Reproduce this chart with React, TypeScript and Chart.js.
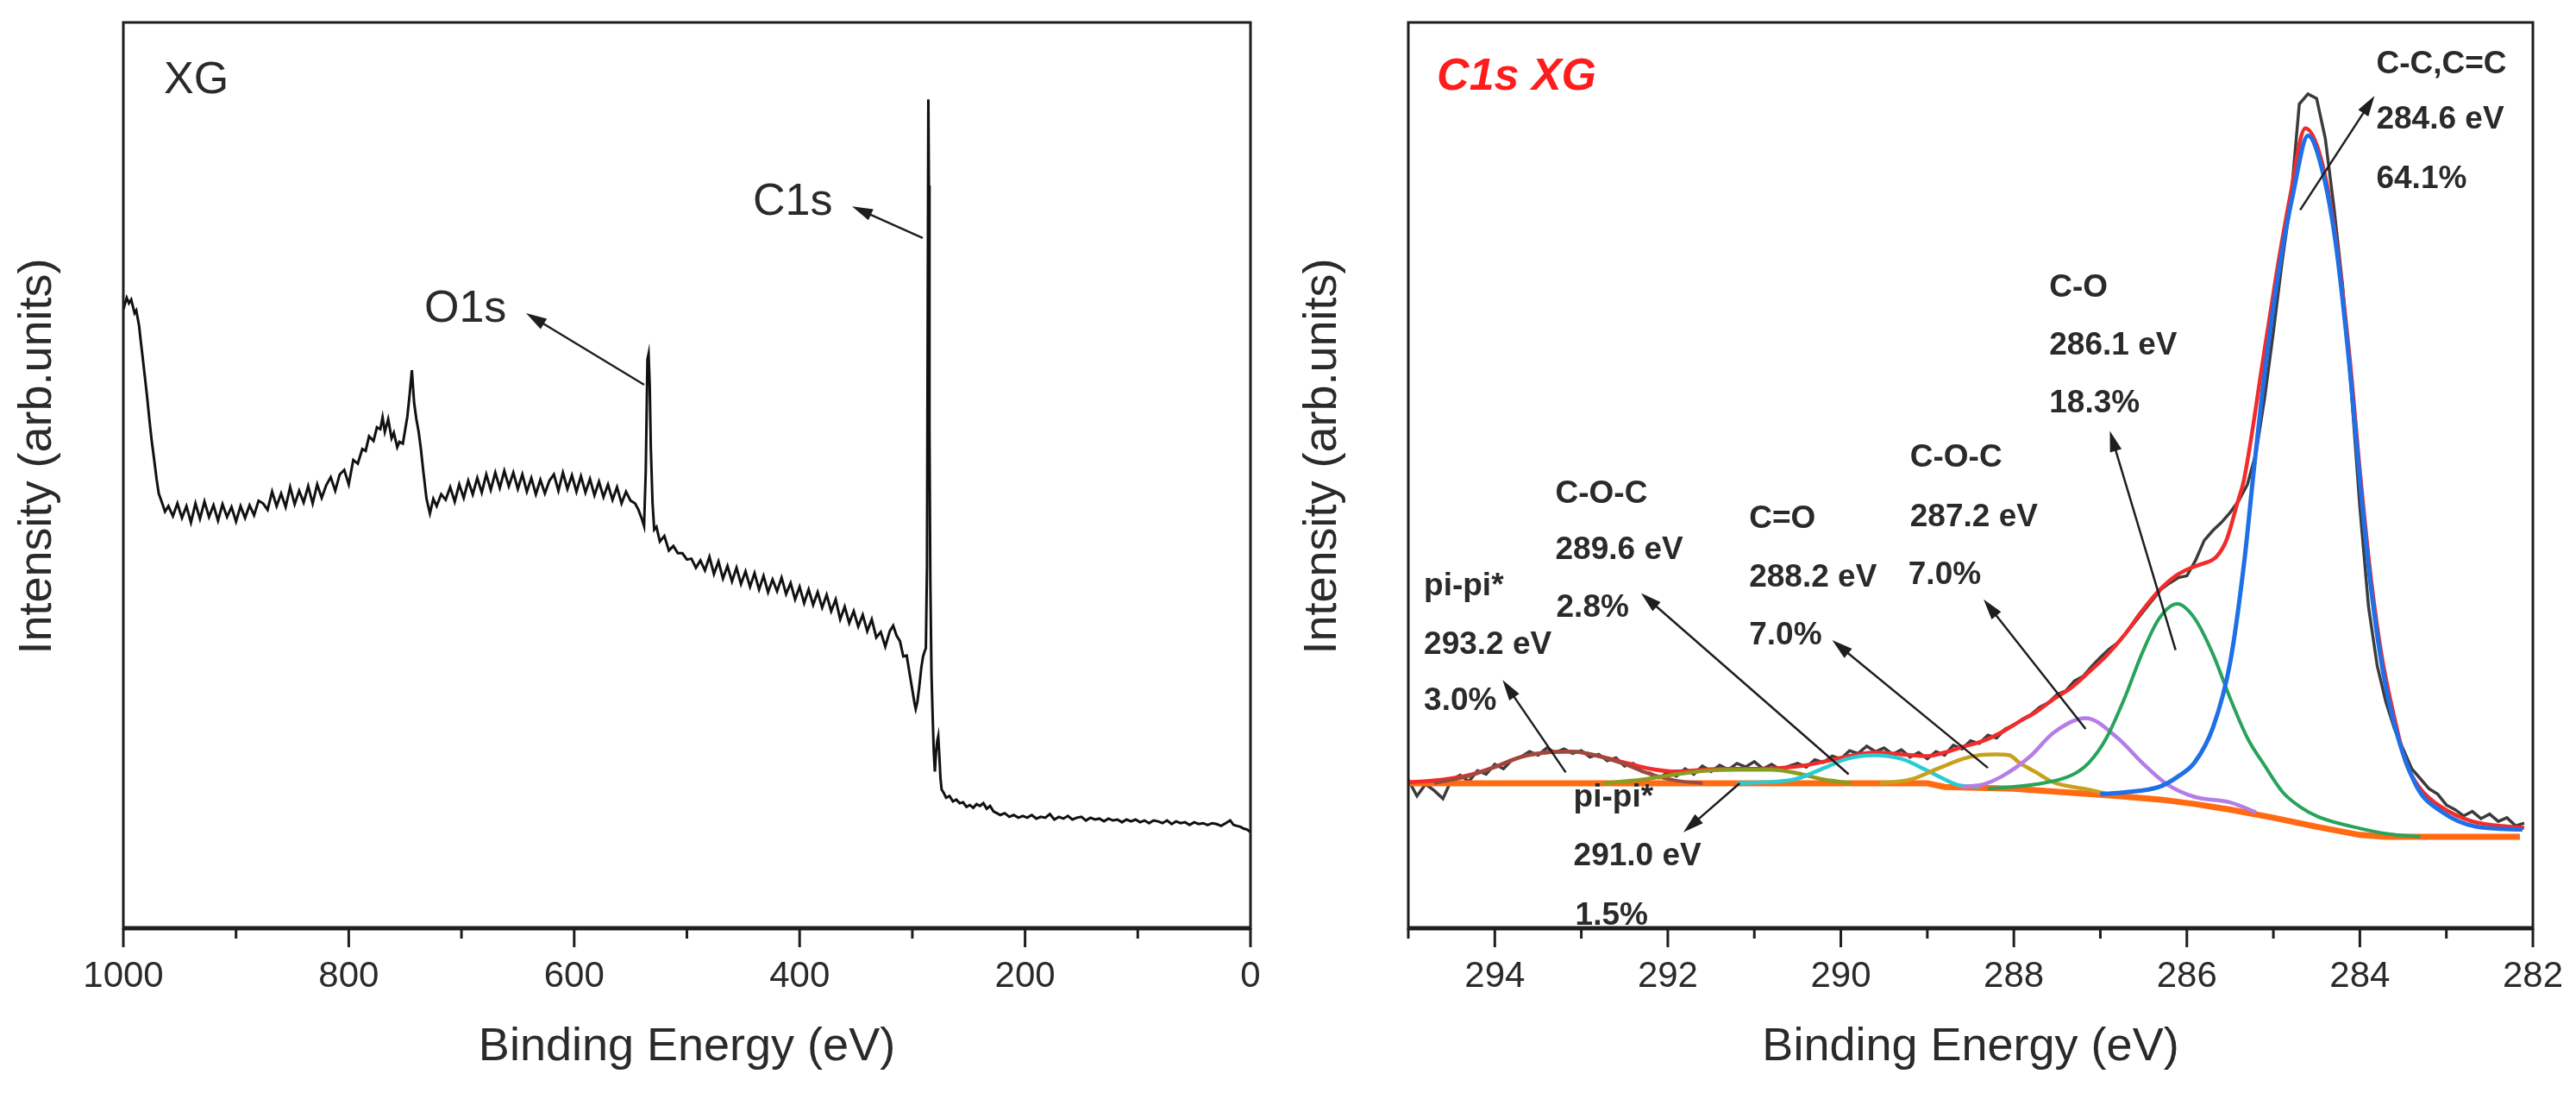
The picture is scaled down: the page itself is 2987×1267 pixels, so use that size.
import { useEffect, useRef } from 'react';
import { Chart, registerables } from 'chart.js';

Chart.register(...registerables);

const W = 2987;
const H = 1267;
const FONT = '"Liberation Sans", Arial, sans-serif';
const INK = '#1e1e1e';
const TEXT = '#2a2a2a';

// ---- survey spectrum (left panel) ----
const SURVEY_BE = [
  1000, 997, 995, 993, 990, 988.5, 986, 984.7, 983, 981,
  979, 977, 975, 972.5, 970.5, 968.6, 966, 963, 960, 956,
  952, 948, 944, 940, 936, 932, 928, 924, 920, 916,
  912, 908, 904, 900, 896, 892, 888, 884, 880, 876,
  872, 868, 864, 860, 856, 852, 848, 844, 840, 836,
  832, 828, 824, 820, 816, 812, 808, 804, 800, 796,
  792, 788, 785, 782, 778, 775, 772, 770, 768, 765,
  762, 760, 757, 755, 752, 750, 748, 746, 744, 742,
  740, 738, 736, 734, 731, 728, 725, 722, 718, 714,
  710, 706, 702, 698, 694, 690, 686, 682, 678, 674,
  670, 666, 662, 658, 654, 650, 646, 642, 638, 634,
  630, 626, 622, 618, 614, 610, 606, 602, 598, 594,
  590, 586, 582, 578, 574, 570, 566, 562, 558, 554,
  550, 546, 543, 540, 538, 536.5, 535, 534, 533, 532,
  530.5, 529, 527, 524, 520, 516, 512, 508, 504, 500,
  496, 492, 488, 484, 480, 476, 472, 468, 464, 460,
  456, 452, 448, 444, 440, 436, 432, 428, 424, 420,
  416, 412, 408, 404, 400, 396, 392, 388, 384, 380,
  376, 372, 368, 364, 360, 356, 352, 348, 344, 340,
  336, 332, 328, 324, 320, 317, 314, 311, 308, 305,
  302, 300, 298, 297, 295.5, 294, 292, 290.5, 289, 288,
  287, 286.3, 285.8, 285.3, 284.8, 284, 283, 282, 281, 280,
  279, 278, 277, 276, 275, 274, 272, 270, 267, 264,
  261, 258, 255, 252, 249, 246, 243, 240, 237, 234,
  231, 228, 225, 222, 218, 214, 210, 206, 202, 198,
  194, 190, 186, 182, 178, 174, 170, 166, 162, 158,
  154, 150, 146, 142, 138, 134, 130, 126, 122, 118,
  114, 110, 106, 102, 98, 94, 90, 86, 82, 78,
  74, 70, 66, 62, 58, 54, 50, 46, 42, 38,
  34, 30, 26, 22, 18, 15, 12, 9, 6, 3,
  0,
];
const SURVEY_INT = [
  68.3, 69.6, 69.0, 69.4, 67.9, 68.2, 66.5, 65.0, 63.2, 61.0,
  58.8, 56.3, 54.0, 51.6, 49.6, 48.0, 47.1, 46.0, 46.6, 45.5,
  46.9, 45.3, 46.6, 44.8, 46.9, 45.2, 47.1, 45.4, 46.7, 45.0,
  46.8, 45.4, 46.5, 44.9, 46.6, 45.3, 46.7, 45.6, 47.2, 46.9,
  46.2, 48.2, 46.6, 48.0, 46.5, 48.7, 46.8, 48.3, 47.0, 48.8,
  46.9, 49.0, 47.5, 48.9, 49.8, 48.3, 50.1, 50.6, 49.0, 51.7,
  51.3, 52.9, 52.7, 54.3, 53.8, 55.3, 55.1, 56.4, 54.8, 56.2,
  54.1, 54.7, 53.1, 53.7, 53.5, 55.0, 56.5, 58.9, 61.6, 58.0,
  56.2, 54.8, 52.9, 50.6, 47.4, 45.8, 47.4, 46.6, 47.9, 47.3,
  48.7, 47.1, 49.0, 47.5, 49.4, 47.9, 49.7, 48.1, 50.1, 48.4,
  50.3, 48.6, 50.5, 48.8, 50.3, 48.5, 50.1, 48.2, 49.7, 47.9,
  49.5, 48.0, 49.4, 50.1, 48.3, 50.3, 48.5, 50.0, 48.2, 49.9,
  48.1, 49.6, 47.8, 49.3, 47.6, 49.0, 47.3, 48.7, 46.9, 48.2,
  47.2, 46.9, 46.2, 45.2, 44.4, 50.5, 62.8, 63.4, 60.0, 53.0,
  47.0, 44.0, 44.3, 42.7, 43.3, 41.7, 42.2, 41.4, 41.4, 40.7,
  40.8, 39.8, 40.6, 39.5, 41.0, 39.1, 40.5, 38.6, 40.0, 38.3,
  39.8, 38.0, 39.4, 37.7, 39.2, 37.4, 38.9, 37.1, 38.5, 37.2,
  38.7, 36.9, 38.1, 36.3, 37.7, 35.9, 37.4, 35.7, 37.1, 35.4,
  36.8, 35.0, 36.3, 34.1, 35.5, 33.7, 35.0, 33.3, 34.6, 32.8,
  34.1, 32.1, 32.7, 31.1, 32.8, 33.4, 32.3, 31.7, 30.0, 30.1,
  27.8, 26.3, 24.8, 24.2, 25.0, 26.5, 28.8, 30.0, 30.6, 30.9,
  40.0, 70.0, 91.5, 82.0, 55.0, 38.0, 28.0, 23.5, 19.5, 17.3,
  19.4, 20.6, 21.2, 19.0, 16.5, 15.3, 14.9, 14.4, 14.6, 14.0,
  14.2, 13.8, 13.9, 13.4, 13.6, 13.3, 13.7, 13.5, 13.8, 13.2,
  13.5, 12.9, 12.7, 12.5, 12.7, 12.3, 12.5, 12.2, 12.4, 12.2,
  12.5, 12.1, 12.3, 12.2, 12.6, 12.0, 12.3, 12.1, 12.4, 12.0,
  12.2, 12.3, 11.9, 12.2, 12.0, 12.1, 11.8, 12.1, 11.9, 12.0,
  11.7, 12.0, 11.8, 12.0, 11.7, 11.9, 11.6, 11.9, 11.8, 11.6,
  11.9, 11.5, 11.8, 11.6, 11.7, 11.4, 11.7, 11.5, 11.6, 11.4,
  11.6, 11.5, 11.3, 11.6, 11.9, 11.4, 11.3, 11.2, 11.0, 10.9,
  10.6,
];
const SURVEY_MAJOR = [0, 200, 400, 600, 800, 1000];
const SURVEY_MINOR = [100, 300, 500, 700, 900];

// ---- C1s high resolution (right panel) ----
const C1S_BE = [
  295.0, 294.9, 294.8, 294.7, 294.6, 294.5, 294.4, 294.3, 294.2, 294.1,
  294.0, 293.9, 293.8, 293.7, 293.6, 293.5, 293.4, 293.3, 293.2, 293.1,
  293.0, 292.9, 292.8, 292.7, 292.6, 292.5, 292.4, 292.3, 292.2, 292.1,
  292.0, 291.9, 291.8, 291.7, 291.6, 291.5, 291.4, 291.3, 291.2, 291.1,
  291.0, 290.9, 290.8, 290.7, 290.6, 290.5, 290.4, 290.3, 290.2, 290.1,
  290.0, 289.9, 289.8, 289.7, 289.6, 289.5, 289.4, 289.3, 289.2, 289.1,
  289.0, 288.9, 288.8, 288.7, 288.6, 288.5, 288.4, 288.3, 288.2, 288.1,
  288.0, 287.9, 287.8, 287.7, 287.6, 287.5, 287.4, 287.3, 287.2, 287.1,
  287.0, 286.9, 286.8, 286.7, 286.6, 286.5, 286.4, 286.3, 286.2, 286.1,
  286.0, 285.9, 285.8, 285.7, 285.6, 285.5, 285.4, 285.3, 285.2, 285.1,
  285.0, 284.9, 284.8, 284.7, 284.6, 284.5, 284.4, 284.3, 284.2, 284.1,
  284.0, 283.9, 283.8, 283.7, 283.6, 283.5, 283.4, 283.3, 283.2, 283.1,
  283.0, 282.9, 282.8, 282.7, 282.6, 282.5, 282.4, 282.3, 282.2, 282.1,
];
const C1S_RAW = [
  16.4, 14.6, 15.9, 15.2, 14.3, 16.4, 16.9, 16.2, 17.4, 17.0,
  18.1, 17.6, 18.6, 18.9, 19.5, 19.1, 19.9, 19.4, 19.8, 19.3,
  19.6, 18.9, 19.2, 18.5, 18.8, 17.9, 18.2, 17.3, 17.1, 16.6,
  17.2, 16.8, 17.6, 17.0, 17.9, 17.3, 18.0, 17.5, 18.2, 17.8,
  18.4, 17.6, 18.1, 17.5, 17.9, 18.2, 17.8, 18.6, 18.3, 19.0,
  18.7, 19.6, 19.3, 20.1, 19.5, 19.9, 19.2, 19.7, 18.9, 19.4,
  18.7, 19.5, 19.1, 20.2, 19.8, 20.7, 20.4, 21.3, 21.0, 22.0,
  22.4, 23.1, 23.6, 24.4, 24.9, 25.8, 26.2, 27.3, 27.8, 28.9,
  29.9, 30.8, 31.5, 32.6, 33.8, 35.0, 36.2, 37.4, 38.1, 38.7,
  38.9, 40.6, 42.8, 43.9, 44.8, 45.9, 47.2, 49.0, 52.5, 58.6,
  65.8, 73.5, 80.2, 91.0, 92.1, 91.6, 87.2, 79.6, 71.0, 59.5,
  46.5, 35.5, 29.0, 25.0, 22.0, 19.8, 17.6, 16.5, 15.4, 14.8,
  13.6, 13.1, 12.4, 12.9, 12.1, 12.6, 11.8, 12.2, 11.3, 11.6,
];

const ENV_BE = [
  295.0, 294.6, 294.3, 294.0, 293.7, 293.4, 293.1, 292.8, 292.5, 292.2,
  291.9, 291.6, 291.3, 291.0, 290.7, 290.4, 290.1, 289.8, 289.6, 289.3,
  289.0, 288.8, 288.6, 288.35, 288.15, 287.94, 287.74, 287.54, 287.33, 287.13,
  286.93, 286.72, 286.52, 286.32, 286.13, 285.95, 285.83, 285.66, 285.54, 285.42,
  285.34, 285.26, 285.13, 284.97, 284.81, 284.63, 284.45, 284.28, 284.12, 283.99,
  283.87, 283.75, 283.59, 283.47, 283.3, 283.06, 282.7, 282.25, 282.1,
];
const ENV_INT = [
  16.1, 16.4, 16.9, 17.8, 18.9, 19.4, 19.5, 19.0, 18.3, 17.6,
  17.3, 17.5, 17.6, 17.6, 17.7, 18.0, 18.6, 19.2, 19.4, 19.2,
  19.0, 19.4, 20.0, 20.7, 21.6, 22.8, 23.9, 25.3, 26.6, 28.3,
  30.1, 32.4, 35.0, 37.3, 38.9, 39.8, 40.2, 41.0, 42.9, 46.8,
  49.5, 53.9, 62.1, 71.9, 80.6, 88.3, 85.0, 76.3, 63.2, 49.5,
  38.5, 30.2, 22.8, 18.3, 15.4, 13.4, 11.8, 11.2, 11.1,
];

const BG_BE = [295.0, 289.0, 288.8, 288.0, 287.4, 286.8, 286.3, 285.9, 285.5, 285.0, 284.5, 284.0, 283.7, 282.15];
const BG_INT = [16.0, 16.0, 15.6, 15.4, 15.0, 14.6, 14.2, 13.7, 13.1, 12.2, 11.2, 10.3, 10.1, 10.1];

const CC_BE = [287.0, 286.72, 286.32, 286.11, 285.91, 285.7, 285.5, 285.34, 285.22, 285.09, 284.93, 284.77, 284.6, 284.44, 284.28, 284.12, 283.99, 283.87, 283.75, 283.59, 283.34, 283.06, 282.65, 282.12];
const CC_INT = [14.8, 15.0, 15.6, 16.7, 18.3, 22.1, 29.3, 40.2, 51.1, 62.1, 73.0, 81.2, 87.5, 83.9, 75.7, 62.1, 48.4, 37.5, 29.3, 22.1, 15.6, 12.9, 11.2, 10.9];

const CO_BE = [288.3, 287.74, 287.33, 287.13, 286.93, 286.72, 286.52, 286.32, 286.11, 285.91, 285.7, 285.5, 285.3, 285.09, 284.89, 284.69, 284.48, 284.08, 283.67, 283.3];
const CO_INT = [15.4, 15.9, 16.9, 18.3, 21.0, 25.4, 30.3, 34.2, 35.8, 34.2, 30.3, 25.4, 21.0, 17.8, 15.0, 13.4, 12.3, 11.2, 10.4, 10.1];

const COC_A_BE = [288.6, 288.35, 288.15, 287.82, 287.54, 287.17, 286.8, 286.52, 286.23, 285.91, 285.5, 285.2];
const COC_A_INT = [15.6, 15.9, 16.7, 18.9, 21.6, 23.2, 21.0, 18.3, 15.9, 14.5, 13.9, 12.8];

const CEO_BE = [289.55, 289.2, 288.86, 288.59, 288.41, 288.2, 288.05, 287.94, 287.74, 287.54, 287.13, 286.9];
const CEO_INT = [16.0, 16.4, 17.7, 18.7, 19.1, 19.2, 19.1, 18.3, 17.2, 16.1, 15.3, 14.8];

const COC_B_BE = [291.2, 290.55, 290.19, 289.93, 289.62, 289.3, 289.0, 288.77, 288.64, 288.4];
const COC_B_INT = [16.0, 16.4, 17.7, 18.7, 19.1, 18.7, 17.4, 16.3, 15.8, 15.6];

const PIPI_A_BE = [292.75, 292.3, 291.9, 291.53, 291.2, 290.8, 290.5, 290.19, 289.88];
const PIPI_A_INT = [16.0, 16.4, 17.0, 17.4, 17.5, 17.5, 17.1, 16.4, 16.0];

const PIPI_B_BE = [294.7, 294.3, 294.0, 293.7, 293.4, 293.1, 292.8, 292.5, 292.2, 291.9, 291.6];
const PIPI_B_INT = [16.0, 16.8, 17.8, 18.9, 19.4, 19.5, 19.0, 18.1, 17.0, 16.3, 16.0];

const C1S_MAJOR = [282, 284, 286, 288, 290, 292, 294];
const C1S_MINOR = [283, 285, 287, 289, 291, 293, 295];

// ---- annotation layout (data coordinates) ----
const BIG = `52px ${FONT}`;
const ANNO = `bold 37px ${FONT}`;

type Pt = [number, number];
interface Label { text: string; at: Pt; font?: string; color?: string }
interface Arrow { from: Pt; to: Pt }
interface Decor { major: number[]; minor: number[]; yTitle: string; labels: Label[]; arrows: Arrow[] }

const SURVEY_DECOR: Decor = {
  major: SURVEY_MAJOR,
  minor: SURVEY_MINOR,
  yTitle: 'Intensity (arb.units)',
  labels: [
    { text: 'XG', at: [964, 92.2], font: BIG },
    { text: 'O1s', at: [733, 67.0], font: BIG },
    { text: 'C1s', at: [441.5, 78.8], font: BIG },
  ],
  arrows: [
    { from: [537.9, 60.0], to: [642.7, 67.9] },
    { from: [290.8, 76.2], to: [353.5, 79.7] },
  ],
};

const C1S_DECOR: Decor = {
  major: C1S_MAJOR,
  minor: C1S_MINOR,
  yTitle: 'Intensity (arb.units)',
  labels: [
    { text: 'C1s XG', at: [294.67, 92.6], font: `italic bold 52px ${FONT}`, color: '#ff1c1c' },
    { text: 'C-C,C=C', at: [283.81, 94.4] },
    { text: '284.6 eV', at: [283.81, 88.3] },
    { text: '64.1%', at: [283.81, 81.7] },
    { text: 'C-O', at: [287.59, 69.7] },
    { text: '286.1 eV', at: [287.59, 63.3] },
    { text: '18.3%', at: [287.59, 57.0] },
    { text: 'C-O-C', at: [289.2, 51.0] },
    { text: '287.2 eV', at: [289.2, 44.4] },
    { text: '7.0%', at: [289.22, 38.0] },
    { text: 'C=O', at: [291.06, 44.2] },
    { text: '288.2 eV', at: [291.06, 37.7] },
    { text: '7.0%', at: [291.06, 31.3] },
    { text: 'C-O-C', at: [293.3, 47.0] },
    { text: '289.6 eV', at: [293.3, 40.8] },
    { text: '2.8%', at: [293.29, 34.4] },
    { text: 'pi-pi*', at: [294.82, 36.8] },
    { text: '293.2 eV', at: [294.82, 30.3] },
    { text: '3.0%', at: [294.82, 24.1] },
    { text: 'pi-pi*', at: [293.09, 13.4] },
    { text: '291.0 eV', at: [293.09, 7.0] },
    { text: '1.5%', at: [293.07, 0.4] },
  ],
  arrows: [
    { from: [284.69, 79.3], to: [283.83, 91.9] },
    { from: [286.13, 30.7], to: [286.89, 54.9] },
    { from: [287.17, 22.0], to: [288.35, 36.3] },
    { from: [288.3, 17.7], to: [290.1, 31.8] },
    { from: [289.91, 17.0], to: [292.31, 37.0] },
    { from: [293.18, 17.2], to: [293.91, 27.4] },
    { from: [291.17, 16.0], to: [291.82, 10.6] },
  ],
};

function decorPlugin(d: Decor) {
  return {
    id: 'decor',
    afterDatasetsDraw(chart: any) {
      const { ctx, chartArea: a } = chart;
      const xs = chart.scales.x;
      const ys = chart.scales.y;
      ctx.save();
      ctx.strokeStyle = INK;
      ctx.lineWidth = 3;
      ctx.strokeRect(a.left, a.top, a.right - a.left, a.bottom - a.top);
      ctx.lineWidth = 5;
      ctx.beginPath();
      ctx.moveTo(a.left - 1, a.bottom);
      ctx.lineTo(a.right + 1, a.bottom);
      ctx.stroke();

      ctx.lineWidth = 3;
      const tick = (v: number, len: number) => {
        const px = xs.getPixelForValue(v);
        ctx.beginPath();
        ctx.moveTo(px, a.bottom);
        ctx.lineTo(px, a.bottom + len);
        ctx.stroke();
      };
      d.major.forEach(v => tick(v, 22));
      d.minor.forEach(v => tick(v, 12));

      ctx.fillStyle = INK;
      ctx.lineWidth = 2.5;
      d.arrows.forEach(({ from, to }) => {
        const x0 = xs.getPixelForValue(from[0]);
        const y0 = ys.getPixelForValue(from[1]);
        const x1 = xs.getPixelForValue(to[0]);
        const y1 = ys.getPixelForValue(to[1]);
        const ang = Math.atan2(y1 - y0, x1 - x0);
        const c = Math.cos(ang), s = Math.sin(ang);
        const hl = 24, hw = 7;
        ctx.beginPath();
        ctx.moveTo(x0, y0);
        ctx.lineTo(x1 - hl * 0.7 * c, y1 - hl * 0.7 * s);
        ctx.stroke();
        ctx.beginPath();
        ctx.moveTo(x1, y1);
        ctx.lineTo(x1 - hl * c + hw * s, y1 - hl * s - hw * c);
        ctx.lineTo(x1 - hl * c - hw * s, y1 - hl * s + hw * c);
        ctx.closePath();
        ctx.fill();
      });

      ctx.textAlign = 'left';
      ctx.textBaseline = 'alphabetic';
      d.labels.forEach(l => {
        ctx.font = l.font ?? ANNO;
        ctx.fillStyle = l.color ?? TEXT;
        ctx.fillText(l.text, xs.getPixelForValue(l.at[0]), ys.getPixelForValue(l.at[1]));
      });

      ctx.translate(a.left - 99, (a.top + a.bottom) / 2 - 22);
      ctx.rotate(-Math.PI / 2);
      ctx.font = `54px ${FONT}`;
      ctx.fillStyle = TEXT;
      ctx.textAlign = 'center';
      ctx.textBaseline = 'middle';
      ctx.fillText(d.yTitle, 0, 0);
      ctx.restore();
    },
  };
}

const series = (xs: number[], ys: number[], color: string, width: number, smooth = true) => ({
  data: xs.map((x, i) => ({ x, y: ys[i] })),
  borderColor: color,
  borderWidth: width,
  pointRadius: 0,
  fill: false,
  tension: 0,
  cubicInterpolationMode: smooth ? 'monotone' : 'default',
});

function scales(min: number, max: number, major: number[], minor: number[]) {
  const all = [...major, ...minor].sort((p, q) => p - q);
  return {
    x: {
      type: 'linear',
      min,
      max,
      reverse: true,
      afterBuildTicks: (s: any) => { s.ticks = all.map(value => ({ value })); },
      afterFit: (s: any) => { s.height = 191; },
      ticks: {
        autoSkip: false,
        maxRotation: 0,
        padding: 31,
        color: TEXT,
        font: { family: FONT, size: 42 },
        callback: (v: number) => (major.includes(v) ? String(v) : ''),
      },
      grid: { display: false, drawTicks: false },
      border: { display: false },
      title: {
        display: true,
        text: 'Binding Energy (eV)',
        color: TEXT,
        font: { family: FONT, size: 54 },
        padding: { top: 0, bottom: 20 },
      },
    },
    y: {
      min: 0,
      max: 100,
      afterFit: (s: any) => { s.width = 143; },
      ticks: { display: false },
      grid: { display: false, drawTicks: false },
      border: { display: false },
    },
  };
}

function baseOptions(padRight: number, sc: any) {
  return {
    animation: false,
    responsive: false,
    devicePixelRatio: 1,
    events: [],
    layout: { padding: { top: 26, right: padRight, left: 0, bottom: 0 } },
    plugins: { legend: { display: false }, tooltip: { enabled: false } },
    scales: sc,
  };
}

const buildSurvey = () => ({
  type: 'line',
  data: { datasets: [series(SURVEY_BE, SURVEY_INT, '#111111', 3, false)] },
  options: baseOptions(30, scales(0, 1000, SURVEY_MAJOR, SURVEY_MINOR)),
  plugins: [decorPlugin(SURVEY_DECOR)],
});

const buildC1s = () => ({
  type: 'line',
  data: {
    datasets: [
      series(CC_BE, CC_INT, '#1f6fe8', 5),
      series(CO_BE, CO_INT, '#27a35a', 4),
      series(COC_A_BE, COC_A_INT, '#b47ee6', 4.5),
      series(CEO_BE, CEO_INT, '#c9a01c', 4.5),
      series(COC_B_BE, COC_B_INT, '#2ccbd3', 4.5),
      series(PIPI_A_BE, PIPI_A_INT, '#8c9c1f', 4.5),
      series(PIPI_B_BE, PIPI_B_INT, '#9a4a40', 4),
      series(ENV_BE, ENV_INT, '#f22b2b', 4.5),
      series(BG_BE, BG_INT, '#ff6a12', 7, false),
      series(C1S_BE, C1S_RAW, '#3c3c3c', 3.5, false),
    ],
  },
  options: baseOptions(50, scales(282, 295, C1S_MAJOR, C1S_MINOR)),
  plugins: [decorPlugin(C1S_DECOR)],
});

function Panel({ build, left, width }: { build: () => any; left: number; width: number }) {
  const ref = useRef<HTMLCanvasElement>(null);
  useEffect(() => {
    if (!ref.current) return;
    const chart = new Chart(ref.current, build());
    return () => chart.destroy();
  }, [build]);
  return (
    <canvas
      ref={ref}
      width={width}
      height={H}
      style={{ position: 'absolute', left, top: 0, width, height: H }}
    />
  );
}

export default function App() {
  return (
    <div style={{ position: 'absolute', left: 0, top: 0, width: W, height: H, background: '#fff' }}>
      <Panel build={buildSurvey} left={0} width={1480} />
      <Panel build={buildC1s} left={1490} width={1497} />
    </div>
  );
}
